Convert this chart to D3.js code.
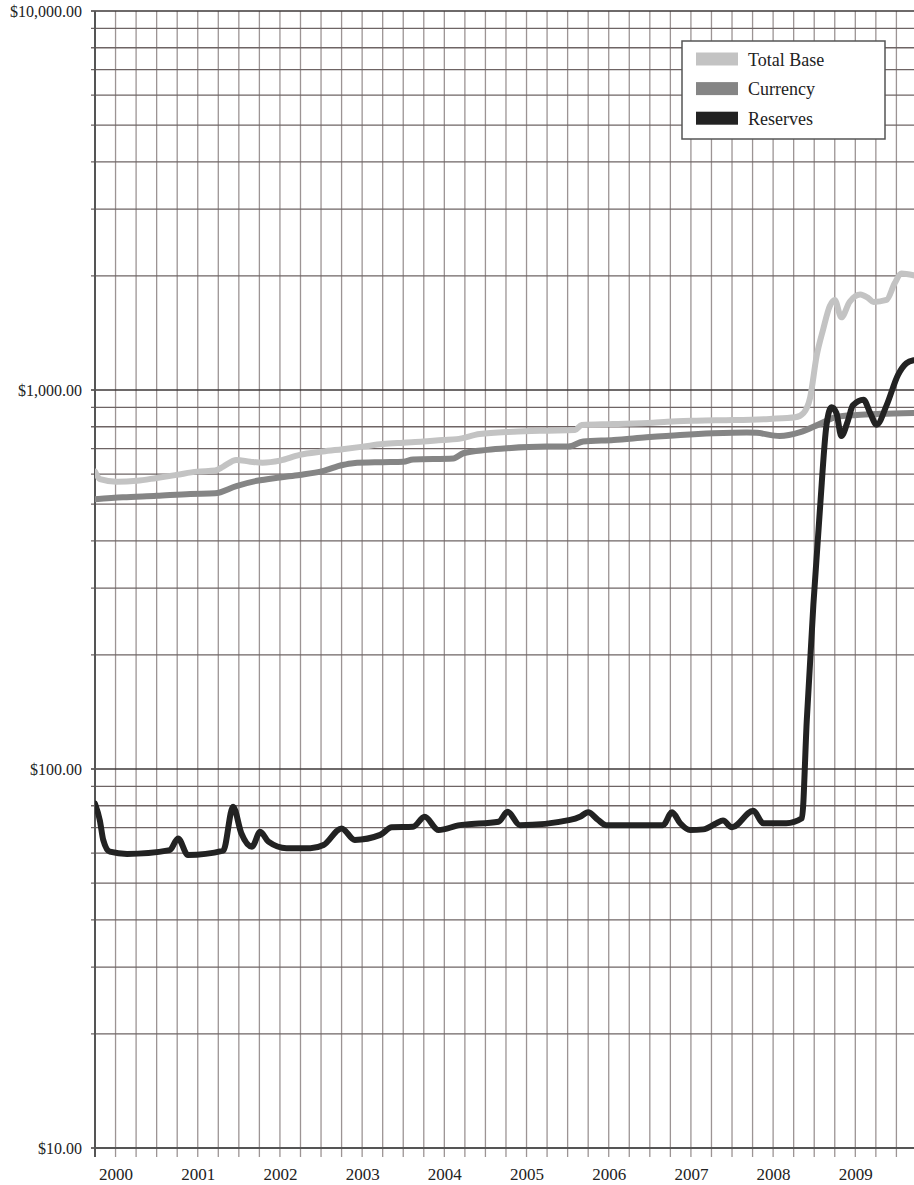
<!DOCTYPE html>
<html>
<head>
<meta charset="utf-8">
<script src="https://cdn.jsdelivr.net/npm/d3@7"></script>
<style>
  body { margin: 0; background: #fff; }
  svg text { font-family: "Liberation Serif", "DejaVu Serif", serif; fill: #222; }
</style>
</head>
<body>
<div id="chart"></div>
<script>
// monetary base components, billions of dollars, [decimal year, value]
const totalBase = [
  [1999.75, 609], [1999.81, 582], [2000.01, 573], [2000.26, 576], [2000.50, 586],
  [2000.74, 597], [2000.99, 609], [2001.21, 613], [2001.31, 628], [2001.47, 654],
  [2001.64, 647], [2001.79, 643], [2002.00, 651], [2002.24, 674], [2002.52, 688],
  [2002.76, 698], [2003.01, 709], [2003.25, 720], [2003.50, 726], [2003.74, 731],
  [2003.98, 738], [2004.15, 742], [2004.43, 765], [2004.84, 776], [2005.24, 781],
  [2005.59, 784], [2005.67, 808], [2006.05, 813], [2006.54, 820], [2006.71, 825],
  [2007.07, 830], [2007.52, 833], [2007.96, 839], [2008.27, 847], [2008.37, 870],
  [2008.45, 954], [2008.53, 1232], [2008.61, 1449], [2008.69, 1666], [2008.75, 1728],
  [2008.83, 1555], [2008.93, 1707], [2009.06, 1787], [2009.16, 1746], [2009.22, 1707],
  [2009.38, 1728], [2009.48, 1915], [2009.56, 2031], [2009.71, 2007]
];

const currency = [
  [1999.75, 515], [2000.09, 521], [2000.50, 526], [2000.91, 532], [2001.21, 534],
  [2001.47, 558], [2001.72, 576], [2002.00, 588], [2002.24, 597], [2002.52, 611],
  [2002.76, 634], [2002.89, 641], [2003.25, 645], [2003.50, 647], [2003.62, 656],
  [2004.11, 660], [2004.23, 681], [2004.52, 695], [2004.76, 702], [2005.24, 709],
  [2005.51, 709], [2005.69, 731], [2006.06, 738], [2006.46, 750], [2006.87, 761],
  [2007.27, 769], [2007.68, 773], [2007.80, 771], [2008.08, 756], [2008.33, 774],
  [2008.57, 814], [2008.77, 849], [2009.02, 859], [2009.30, 865], [2009.71, 870]
];

const reserves = [
  [1999.75, 81], [1999.81, 73], [1999.85, 65], [1999.93, 60.5], [2000.14, 59.7],
  [2000.66, 61.1], [2000.76, 65.6], [2000.88, 59.3], [2001.31, 60.9], [2001.43, 79.5],
  [2001.53, 67.7], [2001.66, 62.4], [2001.76, 68.3], [2001.86, 64.3], [2002.08, 61.8],
  [2002.37, 61.8], [2002.53, 63], [2002.75, 69.7], [2002.91, 65], [2003.22, 67],
  [2003.36, 70.2], [2003.62, 70.4], [2003.76, 74.8], [2003.93, 69], [2004.19, 71.1],
  [2004.27, 71.4], [2004.66, 72.6], [2004.77, 77.1], [2004.92, 71.1], [2005.53, 73.4],
  [2005.65, 74.8], [2005.75, 76.9], [2005.87, 73.4], [2005.97, 71.1], [2006.66, 71.1],
  [2006.77, 76.9], [2006.87, 71.9], [2006.99, 69], [2007.15, 69.3], [2007.31, 71.9],
  [2007.39, 73.1], [2007.50, 70.2], [2007.76, 77.6], [2007.88, 71.9], [2008.16, 71.9],
  [2008.35, 74.1], [2008.41, 135], [2008.49, 272], [2008.57, 486], [2008.65, 810],
  [2008.71, 900], [2008.77, 870], [2008.83, 756], [2008.91, 830], [2008.97, 911],
  [2009.10, 943], [2009.18, 870], [2009.26, 810], [2009.38, 911], [2009.52, 1097],
  [2009.62, 1176], [2009.71, 1198]
];

const years = [2000, 2001, 2002, 2003, 2004, 2005, 2006, 2007, 2008, 2009];
const yLabels = [10, 100, 1000, 10000];
const seriesNames = ["Total Base", "Currency", "Reserves"];
const seriesColors = ["#c3c3c3", "#858585", "#222222"];

const W = 914, H = 1185;
const plotLeft = 95, plotTop = 11, plotBottom = 1148, plotRight = 914;

const svg = d3.select("#chart").append("svg")
    .attr("width", W)
    .attr("height", H);

const x = d3.scaleLinear()
    .domain([1999.75, 2009.714])
    .range([plotLeft, plotRight]);

const y = d3.scaleLog()
    .domain([10, 10000])
    .range([plotBottom, plotTop]);

// grid: quarterly verticals, 1-9 per decade horizontals
const quarters = d3.range(1999.75, 2009.72, 0.25);
const hLines = [];
[10, 100, 1000].forEach(dec => { for (let i = 1; i < 10; i++) hLines.push(dec * i); });
hLines.push(10000);

svg.append("g").selectAll("line")
    .data(quarters)
  .join("line")
    .attr("x1", d => x(d)).attr("x2", d => x(d))
    .attr("y1", plotTop).attr("y2", plotBottom + 9)
    .attr("stroke", "#9c9494")
    .attr("stroke-width", 1.3);

svg.append("g").selectAll("line")
    .data(hLines)
  .join("line")
    .attr("x1", plotLeft - 4).attr("x2", plotRight)
    .attr("y1", d => y(d)).attr("y2", d => y(d))
    .attr("stroke", d => yLabels.includes(d) ? "#3e3838" : "#6e6464")
    .attr("stroke-width", d => yLabels.includes(d) ? 1.6 : 1.3);

// left and bottom frame
svg.append("line")
    .attr("x1", plotLeft).attr("x2", plotLeft)
    .attr("y1", plotTop).attr("y2", plotBottom + 9)
    .attr("stroke", "#555").attr("stroke-width", 2);
svg.append("line")
    .attr("x1", plotLeft).attr("x2", plotRight)
    .attr("y1", plotBottom).attr("y2", plotBottom)
    .attr("stroke", "#555").attr("stroke-width", 2);

// axes labels
const yAxis = svg.append("g")
    .attr("transform", "translate(" + (plotLeft - 10) + ",0)")
    .call(d3.axisLeft(y).tickValues(yLabels).tickSize(0)
      .tickFormat(d => "$" + d3.format(",.2f")(d)));
yAxis.select(".domain").remove();
yAxis.selectAll("text").attr("font-size", 16).attr("dy", "0.32em")
    .attr("font-family", "Liberation Serif, serif").attr("fill", "#222");

const xAxis = svg.append("g")
    .attr("transform", "translate(0," + (plotBottom + 17) + ")")
    .call(d3.axisBottom(x).tickValues(years).tickSize(0).tickFormat(d3.format("d")));
xAxis.select(".domain").remove();
xAxis.selectAll("text").attr("font-size", 17)
    .attr("font-family", "Liberation Serif, serif").attr("fill", "#222");

// series lines
svg.append("clipPath").attr("id", "plot")
  .append("rect").attr("x", plotLeft).attr("y", plotTop)
    .attr("width", plotRight - plotLeft).attr("height", plotBottom - plotTop);

const line = d3.line()
    .x(d => x(d[0]))
    .y(d => y(d[1]))
    .curve(d3.curveMonotoneX);

[totalBase, currency, reserves].forEach((s, i) => {
  svg.append("path")
      .datum(s)
      .attr("clip-path", "url(#plot)")
      .attr("fill", "none")
      .attr("stroke", seriesColors[i])
      .attr("stroke-width", 6)
      .attr("stroke-linejoin", "round")
      .attr("stroke-linecap", "round")
      .attr("d", line);
});

// legend
const legend = svg.append("g").attr("transform", "translate(682,41)");
legend.append("rect")
    .attr("width", 203).attr("height", 98)
    .attr("fill", "#fff")
    .attr("stroke", "#555").attr("stroke-width", 1.5);
seriesNames.forEach((name, i) => {
  legend.append("rect")
      .attr("x", 14).attr("y", 11.5 + i * 29.6)
      .attr("width", 42).attr("height", 13)
      .attr("fill", seriesColors[i]);
  legend.append("text")
      .attr("x", 66).attr("y", 24.5 + i * 29.6)
      .attr("font-size", 18)
      .text(name);
});
</script>
</body>
</html>
